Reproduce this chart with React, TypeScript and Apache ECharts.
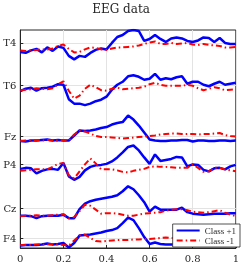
import React, { useEffect, useRef } from "react";
import * as echarts from "echarts";

const timePoints: number[] = Array.from({ length: 41 }, (_, i) => +(i * 0.025).toFixed(3));
const xTicks = [0, 0.2, 0.4, 0.6, 0.8, 1];
const channels = ["T4", "T6", "Fz", "P4", "Cz", "F4"];
const channelOffsets = [20.6, 16.3, 11.2, 8.4, 4.0, 1.0];

const classPos: number[][] = [
  // T4
  [-0.9, -1.0, -0.75, -0.6, -0.95, -0.45, -0.8, -0.35, -0.5, -1.3, -1.65, -1.3, -1.4, -1.0, -0.7, -0.55, -0.65, 0, 0.6, 0.8, 1.2, 1.3, 1.2, 0.2, 0.4, 0.8, 0.4, 0.1, 0.45, 0.55, 0.45, 0.2, 0.1, 0.25, 0.55, 0.5, 0.1, 0.5, 0, -0.1, -0.1],
  // T6
  [-0.55, -0.3, -0.2, -0.5, -0.25, -0.2, -0.1, 0.15, 0.1, -1.35, -1.8, -1.8, -1.95, -1.8, -1.55, -1.4, -1.1, -0.4, 0.1, 0.4, 0.95, 1.05, 0.9, 0.6, 0.7, 1.2, 0.6, 0.75, 0.65, 0.85, 0.95, 0.2, 0.4, 0.4, 0.1, -0.05, 0.2, 0.4, 0.1, 0.2, 0.3],
  // Fz
  [-0.45, -0.5, -0.4, -0.4, -0.35, -0.3, -0.4, -0.35, -0.4, -0.4, 0.1, 0.6, 0.55, 0.6, 0.7, 0.85, 0.95, 1.2, 1.35, 1.45, 2.1, 1.7, 1.1, 0.4, -0.3, -0.4, -0.45, -0.45, -0.4, -0.4, -0.35, -0.35, -0.5, -0.4, -0.4, -0.45, -0.45, -0.4, -0.4, -0.45, -0.4],
  // P4
  [-0.45, -0.35, -0.4, -0.9, -0.65, -0.5, -0.45, -0.55, 0.15, -1.2, -1.55, -1.25, -0.6, -0.25, -0.1, -0.05, 0.05, 0.3, 0.7, 1.2, 1.75, 1.9, 1.4, 0.7, 0.05, 1.0, 0.35, 0.45, 0.55, 0.75, 0.7, -0.2, 0, -0.05, -0.55, -0.7, -0.4, -0.35, -0.5, -0.2, -0.05],
  // Cz
  [-0.75, -0.75, -0.8, -1.0, -0.8, -0.75, -0.75, -0.75, -0.65, -1.0, -1.0, -0.1, 0.45, 0.7, 0.85, 0.95, 1.05, 1.15, 1.3, 1.7, 2.2, 1.9, 1.3, 0.6, -0.35, 0.15, -0.15, -0.15, -0.15, -0.15, 0.05, -0.4, -0.55, -0.6, -0.65, -0.6, -0.55, -0.55, -0.55, -0.5, -0.5],
  // F4
  [-0.75, -0.7, -0.7, -0.7, -0.65, -0.55, -0.65, -0.6, -0.5, -0.95, -0.5, 0.25, 0.3, 0.35, 0.45, 0.55, 0.7, 0.8, 1.0, 1.5, 2.05, 1.8, 1.0, 0.1, -0.6, -0.45, -0.6, -0.65, -0.65, -0.65, -0.65, -0.65, -0.65, -0.6, -0.6, -0.55, -0.55, -0.5, -0.5, -0.55, -0.6],
];

const classNeg: number[][] = [
  // T4
  [-0.75, -0.8, -0.75, -0.7, -0.65, -0.65, -0.55, -0.3, -0.15, -0.6, -0.95, -0.9, -0.65, -0.45, -0.5, -0.65, -0.7, -0.55, -0.45, -0.45, -0.4, -0.35, -0.25, -0.1, 0.05, 0.15, -0.1, -0.1, 0, -0.1, -0.05, 0, -0.15, -0.2, -0.1, -0.2, -0.25, -0.3, -0.45, -0.45, -0.4],
  // T6
  [-0.45, -0.4, -0.35, -0.25, -0.3, -0.35, -0.25, 0.15, 0.45, -0.5, -1.3, -1.0, -0.3, 0.1, -0.15, -0.45, -0.5, -0.3, -0.2, -0.35, -0.3, -0.25, -0.2, -0.1, 0.15, 0.3, 0.1, 0, 0, 0, 0, 0.1, 0, -0.25, -0.45, -0.3, -0.15, -0.25, -0.45, -0.4, -0.35],
  // Fz
  [-0.45, -0.4, -0.4, -0.35, -0.4, -0.35, -0.4, -0.4, -0.35, -0.4, 0.2, 0.6, 0.5, 0.3, 0.05, -0.05, -0.05, -0.1, -0.15, -0.2, -0.15, -0.1, -0.05, 0, 0.05, 0.1, 0.2, 0.25, 0.3, 0.3, 0.25, 0.25, 0.25, 0.2, 0.25, 0.25, 0.3, 0.35, 0.15, 0.05, 0],
  // P4
  [-0.65, -0.6, -0.55, -0.5, -0.5, -0.5, -0.25, 0.05, 0.15, -1.1, -1.4, -0.7, 0, 0.6, 0.1, -0.5, -0.5, -0.5, -0.6, -0.75, -0.8, -0.65, -0.55, -0.45, -0.25, -0.2, -0.25, -0.25, -0.3, -0.35, -0.35, -0.35, 0, -0.35, -0.75, -0.7, -0.35, -0.35, -0.5, -0.6, -0.7],
  // Cz
  [-0.8, -0.75, -0.75, -0.7, -0.75, -0.75, -0.7, -0.65, -0.6, -1.0, -0.9, -0.3, 0.35, 0.25, -0.15, -0.55, -0.5, -0.5, -0.55, -0.65, -0.75, -0.75, -0.65, -0.55, -0.5, -0.45, -0.4, -0.25, -0.15, -0.1, -0.1, -0.2, -0.35, -0.4, -0.45, -0.4, -0.3, -0.2, -0.45, -0.65, -0.8],
  // F4
  [-0.7, -0.7, -0.7, -0.65, -0.65, -0.65, -0.6, -0.65, -0.7, -0.75, -0.25, 0.25, 0.35, 0, -0.3, -0.35, -0.3, -0.25, -0.2, -0.2, -0.2, -0.15, -0.15, -0.1, -0.1, -0.05, 0, 0.05, 0, 0, -0.05, -0.1, -0.1, -0.15, -0.15, -0.1, -0.1, -0.15, -0.2, -0.2, -0.25],
];

const Y_MIN = 0;
const Y_MAX = 21.9;
const AXIS_COLOR = "#262626";
const SERIF = "DejaVu Serif";

export default function App() {
  const ref = useRef<HTMLDivElement>(null);

  useEffect(() => {
    if (!ref.current) return;
    const chart = echarts.init(ref.current, undefined, { renderer: "svg" });

    const series: any[] = [];
    channels.forEach((ch, ci) => {
      series.push({
        name: "Class +1",
        type: "line",
        showSymbol: false,
        symbol: "none",
        data: timePoints.map((t, i) => [t, channelOffsets[ci] + classPos[ci][i]]),
        lineStyle: { color: "#0000ff", width: 2.5, type: "solid" },
        itemStyle: { color: "#0000ff" },
      });
    });
    channels.forEach((ch, ci) => {
      series.push({
        name: "Class -1",
        type: "line",
        showSymbol: false,
        symbol: "none",
        data: timePoints.map((t, i) => [t, channelOffsets[ci] + classNeg[ci][i]]),
        lineStyle: { color: "#ff0000", width: 2, type: [6, 3, 1.5, 3] },
        itemStyle: { color: "#ff0000" },
      });
    });

    const labelFor = (v: number) => {
      const idx = channelOffsets.findIndex((o) => Math.abs(o - v) < 1e-6);
      return idx >= 0 ? channels[idx] : "";
    };

    chart.setOption({
      animation: false,
      title: {
        text: "EEG data",
        left: "center",
        top: -2,
        textStyle: { fontFamily: SERIF, fontSize: 12, fontWeight: "normal", color: AXIS_COLOR },
      },
      grid: {
        left: 14,
        right: 1,
        top: 30,
        bottom: 14,
        show: true,
        borderColor: AXIS_COLOR,
        borderWidth: 1,
        backgroundColor: "#ffffff",
      },
      legend: {
        data: ["Class +1", "Class -1"],
        orient: "vertical",
        right: 2,
        bottom: 16,
        itemWidth: 23,
        itemHeight: 8,
        itemGap: 1,
        padding: [2, 4, 2, 3],
        backgroundColor: "#ffffff",
        borderColor: AXIS_COLOR,
        borderWidth: 0.8,
        borderRadius: 0,
        itemStyle: { color: "transparent", borderColor: "transparent", borderWidth: 0 },
        textStyle: { fontFamily: "Liberation Serif", fontSize: 9, color: AXIS_COLOR },
      },
      xAxis: {
        type: "value",
        min: 0,
        max: 1,
        interval: 0.2,
        axisLine: { show: true, lineStyle: { color: AXIS_COLOR, width: 1 } },
        axisTick: { show: true, inside: true, length: 3, lineStyle: { color: AXIS_COLOR } },
        axisLabel: {
          fontFamily: SERIF,
          fontSize: 10,
          color: AXIS_COLOR,
          margin: 5,
          customValues: xTicks,
        },
        splitLine: { show: true, lineStyle: { color: "#e3e3e3", width: 1 } },
      },
      yAxis: {
        type: "value",
        min: Y_MIN,
        max: Y_MAX,
        axisLine: { show: true, lineStyle: { color: AXIS_COLOR, width: 1 } },
        axisTick: {
          show: true,
          inside: true,
          length: 3,
          customValues: channelOffsets,
          lineStyle: { color: AXIS_COLOR },
        },
        axisLabel: {
          fontFamily: SERIF,
          fontSize: 10,
          color: AXIS_COLOR,
          margin: 4,
          customValues: channelOffsets,
          formatter: (v: number) => labelFor(v),
        },
        splitLine: { show: true, lineStyle: { color: "#e3e3e3", width: 1 } },
      },
      series,
    });

    return () => chart.dispose();
  }, []);

  return (
    <div
      ref={ref}
      style={{ position: "fixed", left: 0, top: 0, width: 242, height: 263 }}
    />
  );
}
